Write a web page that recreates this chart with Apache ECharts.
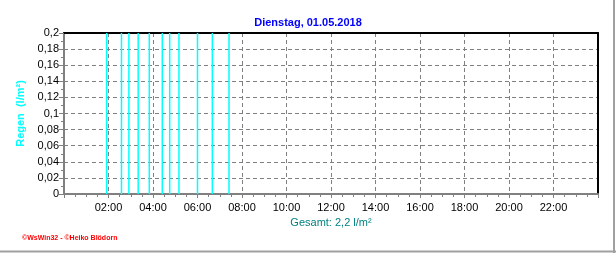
<!DOCTYPE html>
<html>
<head>
<meta charset="utf-8">
<script src="https://cdn.jsdelivr.net/npm/echarts@6/dist/echarts.min.js"></script>
<style>
html,body{margin:0;padding:0;background:#fff;}
#c{width:616px;height:253px;}
</style>
</head>
<body>
<div id="c"></div>
<script>
// Data
var rainTimes = ['01:55','02:35','02:55','03:20','03:50','04:25','04:45','05:10','06:00','06:40','07:25'];
var rainValues = [0.2,0.2,0.2,0.2,0.2,0.2,0.2,0.2,0.2,0.2,0.2];
var xTickLabels = ['02:00','04:00','06:00','08:00','10:00','12:00','14:00','16:00','18:00','20:00','22:00'];
var yTickLabels = ['0','0,02','0,04','0,06','0,08','0,1','0,12','0,14','0,16','0,18','0,2'];
var titleText = 'Dienstag, 01.05.2018';
var yName = 'Regen  (l/m²)';
var totalText = 'Gesamt: 2,2 l/m²';
var footerText = '©WsWin32 - ©Heiko Blödorn';

function toMin(s){var p=s.split(':');return (+p[0])*60+(+p[1]);}
var seriesData = rainTimes.map(function(t,i){return [toMin(t), rainValues[i]];});

var chart = echarts.init(document.getElementById('c'), null, {renderer:'canvas'});
var font = 'Arial, "Liberation Sans", sans-serif';
var dash = {color:'#808080', type:[4,3], width:1};
chart.setOption({
  animation:false,
  backgroundColor:'#fff',
  title:{
    text:titleText, left:'center', top:12,
    textStyle:{color:'#0000ff', fontSize:11, fontWeight:'bold', fontFamily:font}
  },
  grid:{ left:64, right:18, top:33, bottom:59 },
  xAxis:[{
    type:'value', min:0, max:1440, interval:120,
    name:totalText, nameLocation:'middle', nameGap:22,
    nameTextStyle:{color:'#008080', fontSize:11, fontFamily:font},
    axisLine:{show:true, onZero:false, lineStyle:{color:'#808080', width:2}},
    axisTick:{show:true, length:4, lineStyle:{color:'#808080'}},
    minorTick:{show:true, splitNumber:4, length:3, lineStyle:{color:'#808080'}},
    axisLabel:{
      color:'#000', fontSize:11, fontFamily:font, margin:8,
      showMinLabel:false, showMaxLabel:false,
      formatter:function(v){var i=v/120-1; return (i>=0 && i<xTickLabels.length)?xTickLabels[i]:'';}
    },
    splitLine:{show:true, lineStyle:dash}
  },{
    type:'value', position:'top', min:0, max:1440, interval:120,
    axisLine:{show:true, onZero:false, lineStyle:{color:'#000', width:2}},
    axisTick:{show:false}, axisLabel:{show:false}, splitLine:{show:false}
  }],
  yAxis:[{
    type:'value', min:0, max:0.2, interval:0.02,
    name:yName, nameLocation:'middle', nameGap:30, nameRotate:90,
    nameTextStyle:{color:'#00ffff', fontSize:11, fontWeight:'bold', fontFamily:font},
    axisLine:{show:true, onZero:false, lineStyle:{color:'#808080', width:2}},
    axisTick:{show:true, length:5, lineStyle:{color:'#808080'}},
    minorTick:{show:true, splitNumber:2, length:3, lineStyle:{color:'#808080'}},
    axisLabel:{
      color:'#000', fontSize:11, fontFamily:font, margin:5,
      formatter:function(v){var i=Math.round(v/0.02); return yTickLabels[i]!==undefined?yTickLabels[i]:'';}
    },
    splitLine:{show:true, lineStyle:dash}
  },{
    type:'value', position:'right', min:0, max:0.2, interval:0.02,
    axisLine:{show:true, onZero:false, lineStyle:{color:'#000', width:2}},
    axisTick:{show:false}, axisLabel:{show:false}, splitLine:{show:false}
  }],
  series:[{
    type:'bar', data:seriesData, barWidth:1.5, xAxisIndex:0, yAxisIndex:0,
    itemStyle:{color:'#00ffff'}, z:5
  }],
  graphic:[
    {type:'text', left:22, top:235, style:{text:footerText, fill:'#ff0000', font:'bold 7px '+font}},
    {type:'line', shape:{x1:614, y1:0, x2:614, y2:253}, style:{stroke:'#a0a0a0', lineWidth:2}},
    {type:'line', shape:{x1:0, y1:251.5, x2:616, y2:251.5}, style:{stroke:'#a0a0a0', lineWidth:2}}
  ]
});
</script>
</body>
</html>
